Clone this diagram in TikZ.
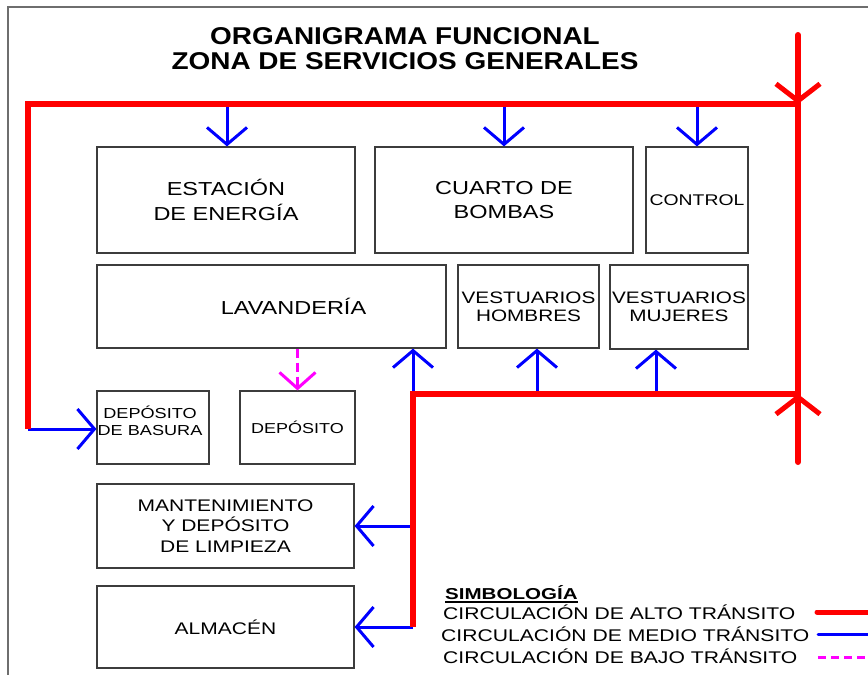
\documentclass[tikz,border=0pt]{standalone}
\usepackage{fontspec}
\setmainfont{Liberation Sans}
\newfontfamily\bxf{Liberation Sans}[FakeStretch=1.25]
\newfontfamily\ttlf{Liberation Sans}[FakeStretch=1.15]
\newfontfamily\lgbf{Liberation Sans}[FakeStretch=1.3]
\usetikzlibrary{arrows.meta}
\definecolor{hired}{RGB}{255,0,0}
\definecolor{medblue}{RGB}{0,0,255}
\definecolor{lowmag}{RGB}{255,0,255}
\definecolor{boxgray}{RGB}{60,60,60}
\definecolor{framegray}{RGB}{110,110,110}
\begin{document}
\begin{tikzpicture}[x=1pt,y=-1pt,
  box/.style={draw=boxgray, line width=1.2pt, inner sep=0pt, align=center},
  hi/.style={draw=hired, line width=6pt, line join=miter},
  med/.style={draw=medblue, line width=3pt, -{Straight Barb[length=17pt,width=40pt]}},
  low/.style={draw=lowmag, line width=3pt, dash pattern=on 9pt off 5pt, -{Straight Barb[length=16pt,width=36pt]}},
  redtip/.style={draw=hired, line width=5pt, -{Straight Barb[length=17pt,width=44pt]}},
  f188/.style={font=\bxf\fontsize{18.8}{24.5}\selectfont},
  leg/.style={anchor=base west, inner sep=0pt, font=\bxf\fontsize{16.9}{20}\selectfont}
]
\useasboundingbox (0,0) rectangle (868,675);
\fill[white] (0,0) rectangle (868,675);
% outer frame
\draw[framegray, line width=1.5pt] (8,675) -- (8,7) -- (868,7);

% title
\node[align=center, font=\ttlf\bfseries\fontsize{24.3}{24.5}\selectfont, inner sep=0pt] (title) at (405,48.5)
  {ORGANIGRAMA FUNCIONAL\\ZONA DE SERVICIOS GENERALES};

% boxes
\node[box, f188, minimum width=258pt, minimum height=106pt] (est) at (226,200) {ESTACIÓN\\DE ENERGÍA};
\node[box, f188, minimum width=258pt, minimum height=106pt] (cb) at (504,200) {CUARTO DE\\BOMBAS};
\node[box, font=\bxf\fontsize{15.5}{18}\selectfont, minimum width=102pt, minimum height=106pt] (ctl) at (697,200) {CONTROL};
\node[box, f188, minimum width=349pt, minimum height=83pt] (lav) at (271.5,306.5) {\hspace*{44pt}LAVANDERÍA};
\node[box, font=\bxf\fontsize{16.6}{18}\selectfont, minimum width=141pt, minimum height=83pt] (vh) at (528.5,306.5) {VESTUARIOS\\HOMBRES};
\node[box, font=\bxf\fontsize{16.6}{18}\selectfont, minimum width=138pt, minimum height=84pt] (vm) at (679,307) {VESTUARIOS\\MUJERES};
\node[box, minimum width=112pt, minimum height=73pt] (db) at (153,427.5) {};
\node[align=center, inner sep=0pt, font=\bxf\fontsize{14.5}{17}\selectfont] (dbt) at (150,421) {DEPÓSITO\\DE BASURA};
\node[box, font=\bxf\fontsize{14.4}{17}\selectfont, minimum width=115pt, minimum height=73pt] (dep) at (297.5,427.5) {DEPÓSITO};
\node[box, font=\bxf\fontsize{16.8}{20.5}\selectfont, minimum width=257pt, minimum height=84pt] (mant) at (225.5,526) {MANTENIMIENTO\\Y DEPÓSITO\\DE LIMPIEZA};
\node[box, font=\bxf\fontsize{16.8}{20}\selectfont, minimum width=257pt, minimum height=82pt] (alm) at (225.5,627) {ALMACÉN};

% coordinates of circulation lines
\coordinate (tl) at (28,104);
\coordinate (tr) at (798,104);
\coordinate (rtop) at (798,35);
\coordinate (rbot) at (798,462);
\coordinate (lb) at (28,429);
\coordinate (mc) at (413,394);
\coordinate (mr) at (798,394);
\coordinate (mb) at (413,627);
\coordinate (vhx) at (537,394);
\coordinate (vmx) at (656,394);
\coordinate (mantx) at (413,526);
\coordinate (ra1) at (798,80);
\coordinate (ra2) at (798,420);

% medium circulation
\draw[med] (tl -| 227,0) -- (est.north -| 227,0);
\draw[med] (tl -| cb.north) -- (cb.north);
\draw[med] (tl -| ctl.north) -- (ctl.north);
\draw[med] (mc) -- (mc |- lav.south);
\draw[med] (vhx) -- (vhx |- vh.south);
\draw[med] (vmx) -- (vmx |- vm.south);
\draw[med] (mantx) -- (mant.east);
\draw[med] (mb) -- (mb -| alm.east);
\draw[med] (lb) -- (lb -| db.west);

% low circulation
\draw[low] (dep.north |- lav.south) -- (dep.north);

% high circulation
\draw[hi] (lb) -- (tl) -- (tr);
\draw[hi, line cap=round] (rtop) -- (rbot);
\draw[hi] (mb) -- (mc) -- (mr);
\draw[redtip] (ra1) -- (tr);
\draw[redtip] (ra2) -- (mr);

% legend
\node[anchor=base west, inner sep=0pt, font=\lgbf\bfseries\fontsize{15.8}{18}\selectfont] (simb) at (445,599) {SIMBOLOGÍA};
\draw[black, line width=1.2pt] ([yshift=-3pt]simb.base west) -- ([yshift=-3pt]simb.base east);
\node[leg] (l1) at (443,619) {CIRCULACIÓN DE ALTO TRÁNSITO};
\node[leg] (l2) at (441,641) {CIRCULACIÓN DE MEDIO TRÁNSITO};
\node[leg] (l3) at (443,663) {CIRCULACIÓN DE BAJO TRÁNSITO};
\coordinate (s1) at (817,612); \coordinate (e1) at (868,612);
\coordinate (s2) at (818,634); \coordinate (e2) at (868,634);
\coordinate (s3) at (818,657); \coordinate (e3) at (868,657);
\draw[hired, line width=5pt, line cap=round] (s1) -- (e1);
\draw[medblue, line width=3pt, line cap=round] (s2) -- (e2);
\draw[lowmag, line width=3pt, dash pattern=on 8pt off 5pt] (s3) -- (e3);
\end{tikzpicture}
\end{document}
